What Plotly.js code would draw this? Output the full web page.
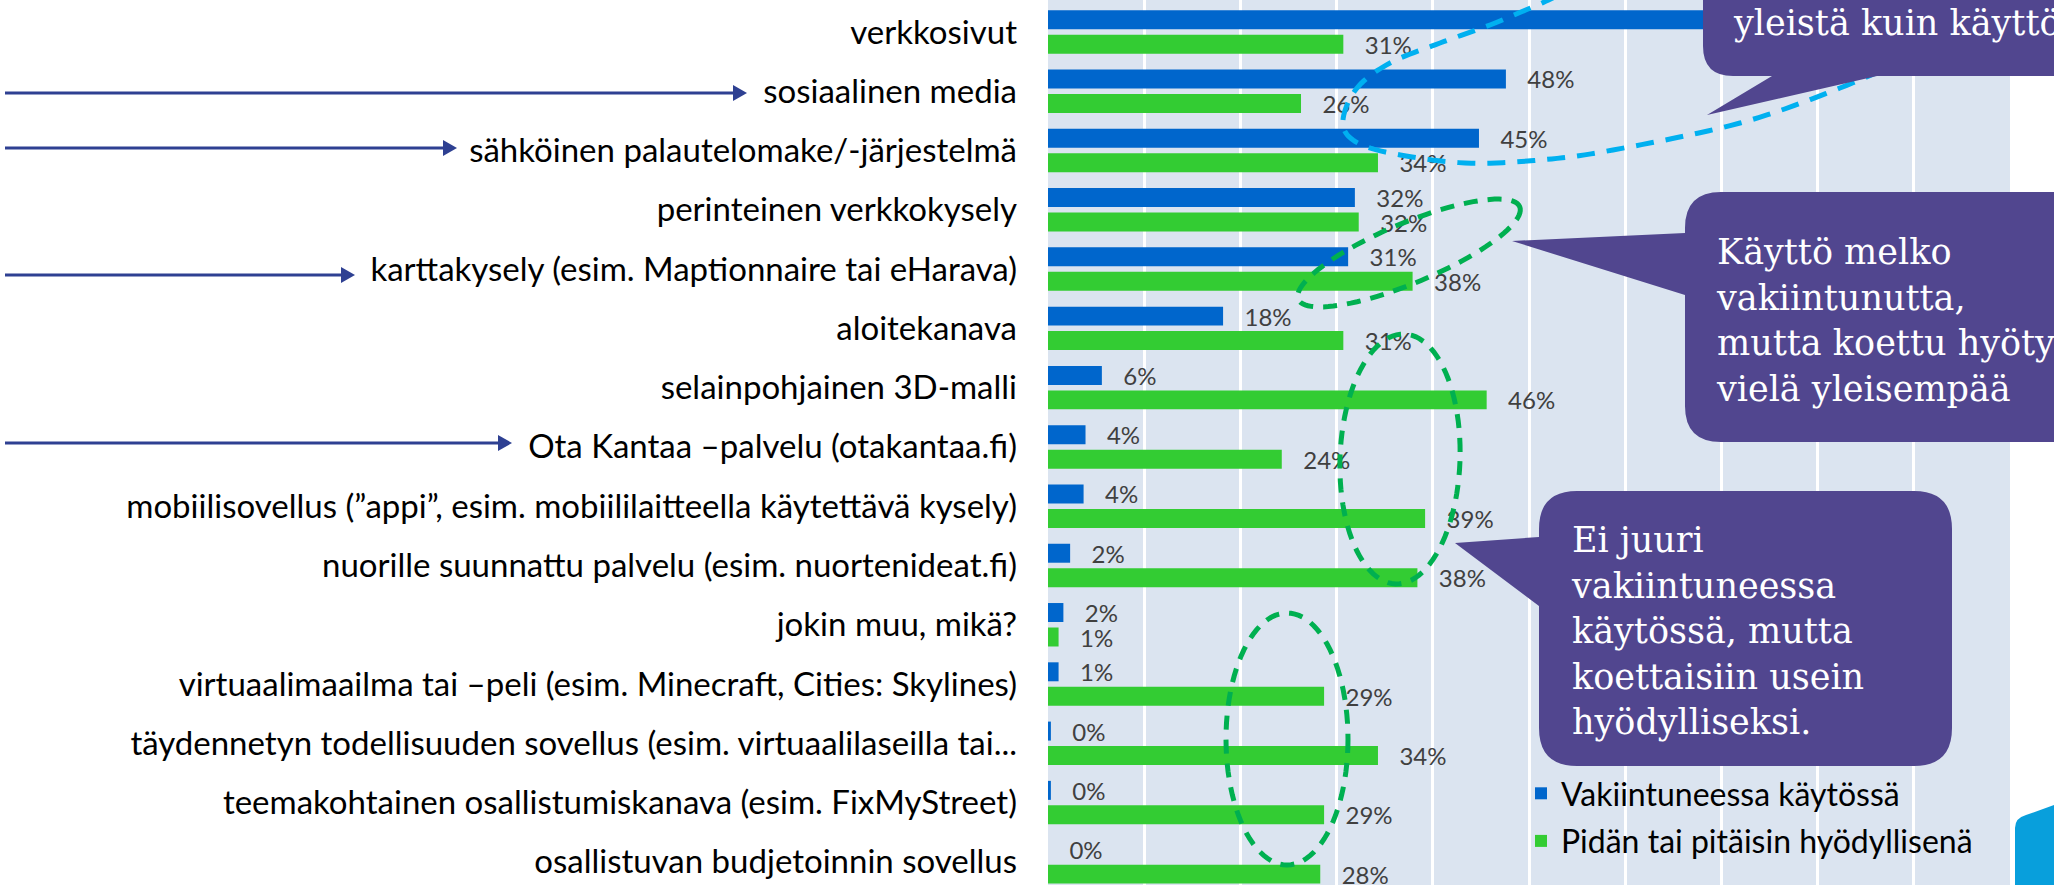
<!DOCTYPE html>
<html>
<head>
<meta charset="utf-8">
<script src="https://cdn.plot.ly/plotly-3.0.1.min.js"></script>
<style>
html,body{margin:0;padding:0;background:#ffffff;}
#chart{width:2054px;height:885px;}
</style>
</head>
<body>
<div id="chart"></div>
<script>
// ---------- data ----------
const categories = [
  "verkkosivut",
  "sosiaalinen media",
  "sähköinen palautelomake/-järjestelmä",
  "perinteinen verkkokysely",
  "karttakysely (esim. Maptionnaire tai eHarava)",
  "aloitekanava",
  "selainpohjainen 3D-malli",
  "Ota Kantaa –palvelu (otakantaa.fi)",
  "mobiilisovellus (”appi”, esim. mobiililaitteella käytettävä kysely)",
  "nuorille suunnattu palvelu (esim. nuortenideat.fi)",
  "jokin muu, mikä?",
  "virtuaalimaailma tai –peli (esim. Minecraft, Cities: Skylines)",
  "täydennetyn todellisuuden sovellus (esim. virtuaalilaseilla tai...",
  "teemakohtainen osallistumiskanava (esim. FixMyStreet)",
  "osallistuvan budjetoinnin sovellus"
];
const established = [0.73, 0.476, 0.448, 0.319, 0.312, 0.182, 0.056, 0.039, 0.037, 0.023, 0.016, 0.011, 0.003, 0.003, 0.0];
const useful      = [0.307, 0.263, 0.343, 0.323, 0.379, 0.307, 0.456, 0.243, 0.392, 0.384, 0.011, 0.287, 0.343, 0.287, 0.283];
const seriesNames = ["Vakiintuneessa käytössä", "Pidän tai pitäisin hyödyllisenä"];
const calloutTexts = [
  "yleistä kuin käyttö",
  "Käyttö melko<br>vakiintunutta,<br>mutta koettu hyöty<br>vielä yleisempää",
  "Ei juuri<br>vakiintuneessa<br>käytössä, mutta<br>koettaisiin usein<br>hyödylliseksi."
];

// ---------- page geometry helpers (decorations only) ----------
const W = 2054, H = 885, L = 1048, R = 2010;
const px = x => (x - L) / (R - L);
const py = y => 1 - y / H;
const P = (x, y) => px(x).toFixed(5) + "," + py(y).toFixed(5);

function roundedCallout(x0, y0, x1, y1, r, tailSide, t) {
  let s = "M" + P(x0 + r, y0) + " L" + P(x1 - r, y0) + " Q" + P(x1, y0) + " " + P(x1, y0 + r) +
          " L" + P(x1, y1 - r) + " Q" + P(x1, y1) + " " + P(x1 - r, y1);
  if (tailSide === "bottom") {
    s += " L" + P(t[3], y1) + " L" + P(t[1], t[2]) + " L" + P(t[0], y1);
  }
  s += " L" + P(x0 + r, y1) + " Q" + P(x0, y1) + " " + P(x0, y1 - r);
  if (tailSide === "left") {
    s += " L" + P(x0, t[3]) + " L" + P(t[1], t[2]) + " L" + P(x0, t[0]);
  }
  s += " L" + P(x0, y0 + r) + " Q" + P(x0, y0) + " " + P(x0 + r, y0) + " Z";
  return s;
}
function ellipsePath(cx, cy, a, b, angDeg) {
  const th = angDeg * Math.PI / 180;
  let s = "";
  for (let i = 0; i <= 96; i++) {
    const t = i / 96 * 2 * Math.PI;
    const u = a * Math.cos(t), v = b * Math.sin(t);
    const x = cx + u * Math.cos(th) + v * Math.sin(th);
    const y = cy - u * Math.sin(th) + v * Math.cos(th);
    s += (i === 0 ? "M" : " L") + P(x, y);
  }
  return s + " Z";
}
function splinePath(pts) {
  const n = pts.length;
  let s = "";
  for (let i = 0; i < n; i++) {
    const p0 = pts[(i - 1 + n) % n], p1 = pts[i], p2 = pts[(i + 1) % n], p3 = pts[(i + 2) % n];
    for (let k = 0; k < 12; k++) {
      const t = k / 12, t2 = t * t, t3 = t2 * t;
      const x = 0.5 * ((2 * p1[0]) + (-p0[0] + p2[0]) * t + (2 * p0[0] - 5 * p1[0] + 4 * p2[0] - p3[0]) * t2 + (-p0[0] + 3 * p1[0] - 3 * p2[0] + p3[0]) * t3);
      const y = 0.5 * ((2 * p1[1]) + (-p0[1] + p2[1]) * t + (2 * p0[1] - 5 * p1[1] + 4 * p2[1] - p3[1]) * t2 + (-p0[1] + 3 * p1[1] - 3 * p2[1] + p3[1]) * t3);
      s += (s === "" ? "M" : " L") + P(x, y);
    }
  }
  return s + " Z";
}

const purple = "#51468f";
const greenDash = "#00b050";
const cyanDash = "#00b0f0";
const arrowCol = "#2e4092";

const shapes = [];
// dashed highlight curves
shapes.push({type: "path", xref: "paper", yref: "paper", line: {color: cyanDash, width: 5, dash: "18px,12px"},
  path: splinePath([[1343,120],[1357,88],[1390,63],[1440,43],[1490,25],[1533,7],[1580,-12],[1700,-45],[1850,-55],[1950,-30],[1960,20],[1905,58],[1840,88],[1740,123],[1613,150],[1540,160],[1465,163],[1390,153],[1353,140]])});
shapes.push({type: "path", xref: "paper", yref: "paper", line: {color: greenDash, width: 5, dash: "14px,10px"}, path: ellipsePath(1409, 253, 120, 30, 22.7)});
shapes.push({type: "path", xref: "paper", yref: "paper", line: {color: greenDash, width: 5, dash: "14px,10px"}, path: ellipsePath(1400, 459, 60, 125, -2)});
shapes.push({type: "path", xref: "paper", yref: "paper", line: {color: greenDash, width: 5, dash: "14px,10px"}, path: ellipsePath(1287, 739, 61, 126, 0)});
// callouts
shapes.push({type: "path", xref: "paper", yref: "paper", fillcolor: purple, line: {width: 0},
  path: roundedCallout(1703, -120, 2120, 76, 30, "bottom", [1772, 1707, 115, 1877])});
shapes.push({type: "path", xref: "paper", yref: "paper", fillcolor: purple, line: {width: 0},
  path: roundedCallout(1685, 192, 2120, 442, 36, "left", [233, 1512, 241, 295])});
shapes.push({type: "path", xref: "paper", yref: "paper", fillcolor: purple, line: {width: 0},
  path: roundedCallout(1539, 491, 1952, 766, 38, "left", [537, 1455, 543, 606])});
// arrows on the left
[[93, 747], [148, 457], [275, 355], [443, 512]].forEach(a => {
  const y = a[0], tip = a[1];
  shapes.push({type: "line", xref: "paper", yref: "paper", x0: px(5), x1: px(tip - 10), y0: py(y), y1: py(y), line: {color: arrowCol, width: 3}});
  shapes.push({type: "path", xref: "paper", yref: "paper", fillcolor: arrowCol, line: {width: 0},
    path: "M" + P(tip, y) + " L" + P(tip - 14, y - 8) + " L" + P(tip - 14, y + 8) + " Z"});
});
// corner decoration
shapes.push({type: "path", xref: "paper", yref: "paper", fillcolor: "#089fdc", line: {width: 0},
  path: "M" + P(2015, 890) + " L" + P(2015, 828) + " Q" + P(2015, 818) + " " + P(2026, 815) + " L" + P(2060, 803) + " L" + P(2060, 890) + " Z"});

const serif = {family: "DejaVu Serif", size: 35, color: "#ffffff"};
const annotations = [
  {xref: "paper", yref: "paper", x: px(1731), y: py(23), xanchor: "left", yanchor: "middle", align: "left", showarrow: false, text: calloutTexts[0], font: serif},
  {xref: "paper", yref: "paper", x: px(1714), y: py(320), xanchor: "left", yanchor: "middle", align: "left", showarrow: false, text: calloutTexts[1], font: serif},
  {xref: "paper", yref: "paper", x: px(1569), y: py(631), xanchor: "left", yanchor: "middle", align: "left", showarrow: false, text: calloutTexts[2], font: serif}
];

const pct = "\u00a0\u00a0\u00a0%{x:.0%}";
const valueFont = {family: "Lato", size: 24, color: "#404040"};
const traces = [
  {type: "bar", orientation: "h", name: seriesNames[0], legendgroup: "a", y: categories, x: established,
   marker: {color: "#0066cc"}, texttemplate: pct, textposition: "outside", textfont: valueFont,
   constraintext: "none", cliponaxis: false, hoverinfo: "none"},
  {type: "bar", orientation: "h", name: seriesNames[1], legendgroup: "b", y: categories, x: useful,
   marker: {color: "#33cc33"}, texttemplate: pct, textposition: "outside", textfont: valueFont,
   constraintext: "none", cliponaxis: false, hoverinfo: "none"}
];

const layout = {
  width: W, height: H,
  margin: {l: L, r: W - R, t: 0, b: 0, pad: 0},
  paper_bgcolor: "#ffffff",
  plot_bgcolor: "#dbe4f0",
  barmode: "group", bargap: 0.174, bargroupgap: 0.225,
  font: {family: "Lato", color: "#000000"},
  xaxis: {range: [0, 1], tick0: 0, dtick: 0.1, showgrid: true, gridcolor: "#ffffff", gridwidth: 3,
          showticklabels: false, zeroline: false, showline: false, ticks: "", fixedrange: true},
  yaxis: {type: "category", range: [14.39, -0.539], showgrid: false, zeroline: false, showline: false,
          ticks: "", ticklabelstandoff: 30, tickfont: {family: "Lato", size: 33, color: "#000000"},
          automargin: false, fixedrange: true},
  showlegend: true,
  legend: {x: px(1521), xanchor: "left", y: py(766), yanchor: "top", bgcolor: "rgba(0,0,0,0)",
           font: {family: "Lato", size: 32, color: "#000000"}, traceorder: "grouped", tracegroupgap: 3,
           borderwidth: 0},
  shapes: shapes,
  annotations: annotations
};

Plotly.newPlot("chart", traces, layout, {displayModeBar: false, staticPlot: true});
</script>
</body>
</html>
